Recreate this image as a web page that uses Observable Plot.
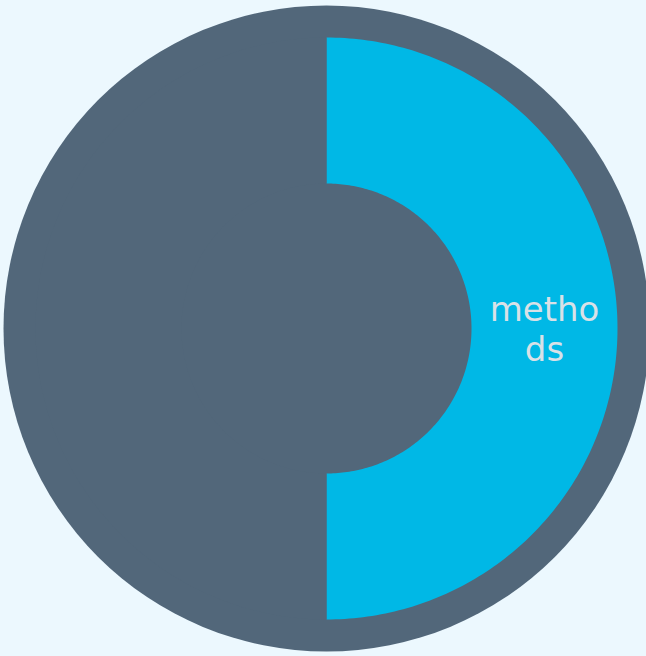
<!DOCTYPE html>
<html>
<head>
<meta charset="utf-8">
<script src="https://cdn.jsdelivr.net/npm/d3@7"></script>
<script src="https://cdn.jsdelivr.net/npm/@observablehq/plot@0.6"></script>
<style>
  html, body { margin: 0; padding: 0; background: #ecf8fe; }
</style>
</head>
<body>
<div id="chart"></div>
<script>
// Sunburst data: one ring of children around the root
const names = ["methods", "other"];
const values = [1, 1];
const fills = ["#00b8e6", "#52677a"];
const labels = ["methods", ""];

const W = 646, H = 656;
const cx = 326, cy = 328;
const outerR = 323, ring0 = 145, ring1 = 291;

const total = d3.sum(values);
let acc = 0;
const sectors = names.map((n, i) => {
  const a0 = acc / total * 2 * Math.PI;
  acc += values[i];
  const a1 = acc / total * 2 * Math.PI;
  return {name: n, a0, a1, fill: fills[i], label: labels[i]};
});

// polygon points for each sector (angle 0 at top, clockwise)
const pts = [];
for (const s of sectors) {
  const n = 200;
  const outer = d3.range(n + 1).map(k => s.a0 + (s.a1 - s.a0) * k / n);
  for (const a of outer) pts.push({name: s.name, fill: s.fill, x: ring1 * Math.sin(a), y: ring1 * Math.cos(a)});
  for (const a of outer.slice().reverse()) pts.push({name: s.name, fill: s.fill, x: ring0 * Math.sin(a), y: ring0 * Math.cos(a)});
}

function wrap(str, n) {
  const out = [];
  for (let i = 0; i < str.length; i += n) out.push(str.slice(i, i + n));
  return out.join("\n");
}
const textData = sectors.filter(s => s.label).map(s => {
  const a = (s.a0 + s.a1) / 2, r = (ring0 + ring1) / 2;
  return {x: r * Math.sin(a), y: r * Math.cos(a), text: wrap(s.label, 5)};
});

const chart = Plot.plot({
  width: W, height: H,
  margin: 0,
  style: {background: "#ecf8fe"},
  x: {domain: [-cx, W - cx], range: [0, W], axis: null},
  y: {domain: [cy, cy - H], range: [0, H], axis: null},
  marks: [
    Plot.dot([{x: 0, y: 0}], {x: "x", y: "y", r: outerR, fill: "#52677a", stroke: "none"}),
    Plot.line(pts, {x: "x", y: "y", z: "name", fill: "fill", stroke: "none", curve: "linear-closed"}),
    Plot.text(textData, {x: "x", y: "y", text: "text", fill: "#d9e1e7", fontSize: 34, fontFamily: "DejaVu Sans", lineHeight: 1.15})
  ]
});
document.getElementById("chart").appendChild(chart);
</script>
</body>
</html>
